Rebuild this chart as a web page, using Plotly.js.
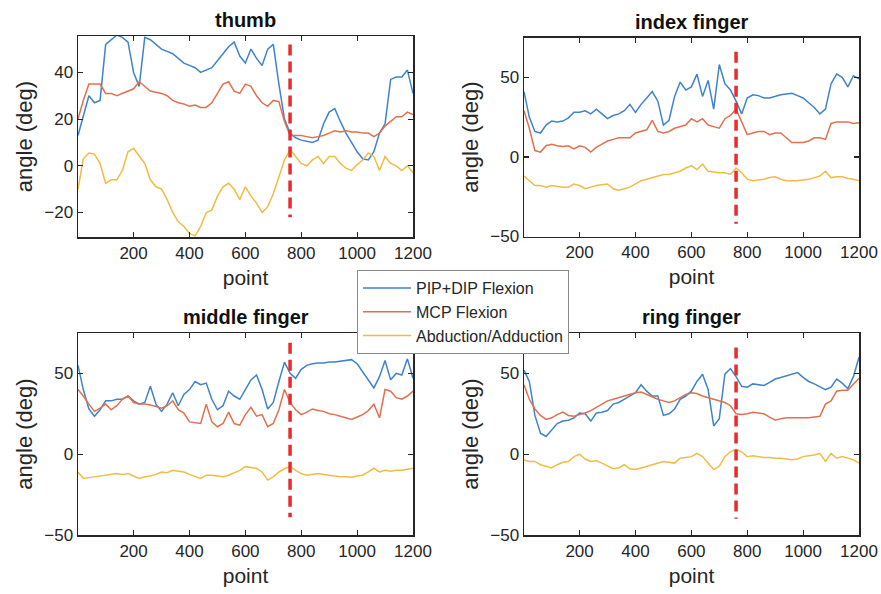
<!DOCTYPE html>
<html>
<head>
<meta charset="utf-8">
<script src="https://cdn.plot.ly/plotly-3.0.1.min.js"></script>
<style>html,body{margin:0;padding:0;background:#fff}#chart{width:881px;height:594px}</style>
</head>
<body>
<div id="chart"></div>
<script>
// sample index (points)
const pointIdx = [1,20,40,60,80,100,120,140,160,180,200,220,240,260,280,300,320,340,360,380,400,420,440,460,480,500,520,540,560,580,600,620,640,660,680,700,720,740,760,780,800,820,840,860,880,900,920,940,960,980,1000,1020,1040,1060,1080,1100,1120,1140,1160,1180,1200];

const seriesNames = ["PIP+DIP Flexion", "MCP Flexion", "Abduction/Adduction"];
const panelTitles = ["thumb", "index finger", "middle finger", "ring finger"];

// thumb
const thumbPIP = [13,21,30,27,28,52,54,56,55,53,40,34,55,54,52,50,49,48,46,44,43,42,40,41,42,45,48,51,53,47,44,50,46,43,50,52,35,20,14,12,11,10.5,10,11,18,23,24.5,19,14,10,6,3,2.5,6,14,18,37,38,38,41,31];
const thumbMCP = [20,28,35,35,35,31,31,30,31,32,33,36,34,32,31.5,31,30,28,27,26.5,25.5,26,25,25,27,31,35,36,32,31,35,34,30,27,25.5,28,27.5,19,13,13,13,12.5,12,12.5,13,14,15,14.5,15,14.5,14.5,14,14,12.5,14,17,19,21,21,23,22];
const thumbABD = [-10,3,5.5,5,1,-7.5,-6,-6,-2,6,7.5,4,1,-6,-9,-10,-14.5,-20,-24,-26,-29,-30,-26,-20,-19,-13,-9,-7.5,-10,-14.5,-9,-13,-16,-20,-17.5,-12,-4.5,2.5,7,4,1,0,2.5,4,1,4,4,1,-1,-2,0.5,2.5,5.5,4,-2,4,1,0,-2,0,-3];

// index finger
const indexPIP = [41,25,16,15,20,22.5,22,22.5,24.5,28,28,29,27,30,27,24,26,27,29,33,28,33,37,41,35,20,23,38,47,42,44,52,38,48,30,58,46,42,35,27,37,39,38.5,37,37,38,39,39.5,40,38.5,37,34,31,27,30,46,52,50,44,51,49];
const indexMCP = [29,18,4,3,7,8,7,6.5,7,5,7,6,3,6,8,10,11,12,12,12,15,16,17,23,16,15,16,18,19,20,24,22,24,20,19,18,24,26,30,22,14,15,16,16,14,15,15,12,9,9,9,10,12,12,11,21,22,22,22,21,21.5];
const indexABD = [-12,-15,-18,-18,-19,-18,-18.5,-19,-19,-17,-18,-20,-19,-18,-17.5,-17,-20,-21,-20,-19,-17,-15,-14,-13,-12,-11,-11,-10,-9,-7,-5.5,-8,-4.5,-9,-9.5,-10,-10,-11,-7,-10,-14,-15,-14.5,-14,-13,-12.5,-14,-15,-15,-15,-14.5,-14,-13,-12,-9,-13,-12.5,-12.5,-13.5,-14,-15];

// middle finger
const middlePIP = [55,40,28,23.5,27.5,33,33,34,34,36,33,31,32,42,31,26.5,31,38,30,37,40,45,43,44,34,27.5,30,39,36,34,40,46,49,40,28,32,45,57,50,47,52.5,55,56,56.5,56.5,57,57,57.5,58,58.5,56,51,46,41,48,58,46,50,49,59,47];
const middleMCP = [40,36,31,26.5,28.5,31,27.5,30,34,36,32,31,31,30.5,29.5,28.5,30,33,27.5,25.5,20,19.5,19,31,20,17,19,26,19,18,24.5,29,23.5,24.5,17,19,27.5,40,32,27.5,24.5,26,28,27,26.5,25,24.5,23.5,22.5,21.5,23,24.5,27,31,22.5,40,39,35,34,36,39];
const middleABD = [-11,-15,-14.5,-14,-13.5,-13,-12.5,-12,-12.5,-12,-13.5,-15,-14,-13.5,-12.5,-11,-11.5,-10,-10.5,-11,-12.5,-14,-15,-13,-13,-13.5,-14,-13,-11.5,-10,-7.7,-8,-8.7,-11,-16,-14,-11,-9,-7.7,-10,-12,-13,-12.5,-12,-12.5,-13,-13.5,-14,-14,-14.3,-13.5,-13,-11,-8.7,-11,-10,-10.5,-10,-10,-9.5,-8.7];

// ring finger
const ringPIP = [52,45,24,13,11,15,19,20.5,21,22.5,25.5,25,20.5,25.5,26,27,31,32,34,36,38,43,39,36,36,24,25,28,34,36,39,45,49.5,40,17.5,22,49.5,53,48,42,41.5,43.5,43,42.5,44.5,46.5,47.5,48.5,49.5,50.5,47.5,45,43.5,41.5,40,41.5,46.5,44,40.5,48,60];
const ringMCP = [43,34,28,24,21.5,22.5,24.5,26,24,23.5,24.5,25.5,27,29,31,33,34,35,36,37,38,38.5,37,35,34,33,32,33,35,37,38,37.5,36,35,34,33,32,30,25,24.5,25,26,25.5,25,23,21,22,22.5,22.5,22.5,22.5,22.5,23,23.5,31,33,39,39.5,39.5,43,47];
const ringABD = [-3.5,-4.5,-4.5,-6.5,-7.5,-8.5,-6.5,-5,-4.5,-1.5,0,-3,-4.5,-4,-5.5,-7.5,-9,-8.5,-6.5,-9,-9.5,-8.5,-7.5,-6.5,-5.5,-4.5,-5,-5.5,-2.5,-2,-1.5,0.5,-1.5,-5.5,-9.5,-7.5,-1.5,1.5,3,1.5,-1.5,-1,-1.5,-2,-2,-2.5,-2.5,-3,-3.5,-3,-1.5,-1,-0.5,0.5,-4.5,0.5,-2.5,-1.5,-2.5,-3.5,-5.5];

// dashed marker line (point index, and its vertical extent per panel)
const markerPoint = [760, 760];
const markerExtent = [[52, -22], [66, -42], [69, -39], [66, -40]];

const panels = [
  [thumbPIP, thumbMCP, thumbABD],
  [indexPIP, indexMCP, indexABD],
  [middlePIP, middleMCP, middleABD],
  [ringPIP, ringMCP, ringABD]
];

const colors = ["#3f83cc", "#e2704f", "#f0bc45"];
const txt = "#262626";
const FONT = "Liberation Sans, Arial, Helvetica, sans-serif";

const traces = [];
panels.forEach((p, i) => {
  const xa = i === 0 ? "x" : "x" + (i + 1);
  const ya = i === 0 ? "y" : "y" + (i + 1);
  p.forEach((vals, k) => {
    traces.push({
      x: pointIdx, y: vals, type: "scatter", mode: "lines",
      name: seriesNames[k], legendgroup: seriesNames[k], showlegend: i === 0,
      xaxis: xa, yaxis: ya,
      line: {color: colors[k], width: 1.5}
    });
  });
  traces.push({
    x: markerPoint, y: markerExtent[i], type: "scatter", mode: "lines",
    showlegend: false, hoverinfo: "skip", xaxis: xa, yaxis: ya,
    line: {color: "#ea2b2b", width: 3.5, dash: "11px,6px"}
  });
});

const W = 881, H = 594;
const xdomL = [78 / W, 413 / W], xdomR = [524 / W, 859 / W];
const boxes = [
  {x: xdomL, y: [1 - 237 / H, 1 - 36 / H], r: [-30.5, 55.6], t: [-20, 0, 20, 40]},
  {x: xdomR, y: [1 - 236.5 / H, 1 - 37.5 / H], r: [-50, 75], t: [-50, 0, 50]},
  {x: xdomL, y: [1 - 535 / H, 1 - 333 / H], r: [-50, 75], t: [-50, 0, 50]},
  {x: xdomR, y: [1 - 535 / H, 1 - 333 / H], r: [-50, 75], t: [-50, 0, 50]}
];

const layout = {
  width: W, height: H,
  margin: {l: 0, r: 0, t: 0, b: 0},
  paper_bgcolor: "#fff", plot_bgcolor: "#fff",
  font: {family: FONT, color: txt},
  showlegend: true,
  legend: {
    x: 357 / W, y: 1 - 270 / H, xanchor: "left", yanchor: "top",
    bgcolor: "#fff", bordercolor: "#8a8a8a", borderwidth: 1,
    font: {family: FONT, size: 16, color: txt},
    itemwidth: 48, tracegroupgap: 0
  },
  annotations: []
};

boxes.forEach((b, i) => {
  const s = i === 0 ? "" : String(i + 1);
  const ya = i === 0 ? "y" : "y" + (i + 1);
  const xa = i === 0 ? "x" : "x" + (i + 1);
  layout["xaxis" + s] = {
    domain: b.x, range: [1, 1200], anchor: ya,
    tickvals: [200, 400, 600, 800, 1000, 1200],
    ticks: "inside", ticklen: 5, tickwidth: 1.2, tickcolor: txt,
    showline: true, linecolor: txt, linewidth: 1.5, mirror: "ticks",
    showgrid: false, zeroline: false,
    tickfont: {family: FONT, size: 17, color: txt},
    title: {text: "point", font: {family: FONT, size: 21, color: txt}, standoff: 8}
  };
  layout["yaxis" + s] = {
    domain: b.y, range: b.r, anchor: xa,
    tickvals: b.t,
    ticks: "inside", ticklen: 5, tickwidth: 1.2, tickcolor: txt,
    showline: true, linecolor: txt, linewidth: 1.5, mirror: "ticks",
    showgrid: false, zeroline: false,
    tickfont: {family: FONT, size: 17, color: txt},
    title: {text: "angle (deg)", font: {family: FONT, size: 22, color: txt}, standoff: 5}
  };
  layout.annotations.push({
    text: "<b>" + panelTitles[i] + "</b>",
    xref: "paper", yref: "paper",
    x: (b.x[0] + b.x[1]) / 2, y: b.y[1],
    xanchor: "center", yanchor: "bottom", yshift: 3,
    showarrow: false, font: {family: FONT, size: 20, color: "#111"}
  });
});

Plotly.newPlot("chart", traces, layout, {displayModeBar: false, staticPlot: true});
</script>
</body>
</html>
